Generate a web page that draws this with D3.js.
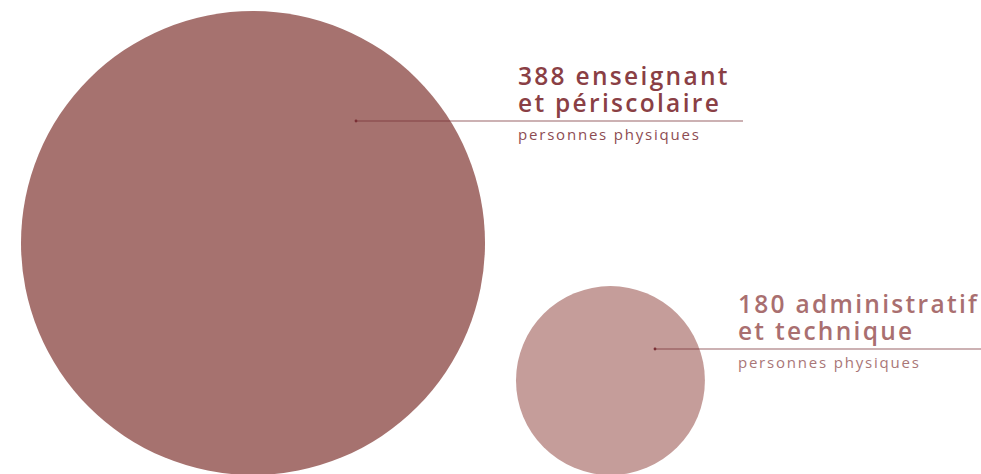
<!DOCTYPE html>
<html lang="fr">

<head>
    <meta charset="UTF-8">
    <script src="https://cdnjs.cloudflare.com/ajax/libs/d3/7.9.0/d3.min.js"></script>
    <title>Effectifs</title>
    <style>
        body {
            margin: 0;
            background-color: white;
            font-family: "Open Sans", sans-serif;
        }

        svg {
            display: block;
        }
    </style>
</head>

<body>
    <div id="content"></div>
    <script>
        // data
        const categories = ["enseignant et périscolaire", "administratif et technique"];
        const values = [388, 180];
        const titleLine1 = ["388 enseignant", "180 administratif"];
        const titleLine2 = ["et périscolaire", "et technique"];
        const subtitles = ["personnes physiques", "personnes physiques"];

        const width = 981;
        const height = 474;
        const baseline = 475; // circles sit on this line
        const left = 21;
        const gap = 31;

        const circleColors = ["#a6726f", "#c59d9a"];
        const titleColors = ["#8a3f45", "#a96f70"];
        const subColors = ["#8d4c52", "#a97677"];
        // leader line: y, dot x, end x
        const leader = [
            { y: 121, dotX: 356, endX: 743 },
            { y: 349, dotX: 655, endX: 981 }
        ];

        const svg = d3.select("#content").append("svg")
            .attr("width", width)
            .attr("height", height);

        // radius scale
        const r = d3.scalePow().exponent(1.17)
            .domain([0, d3.max(values)])
            .range([0, 232]);

        // pack circles left to right
        const nodes = [];
        let cursor = left;
        values.forEach((v, i) => {
            const rad = r(v);
            nodes.push({ i, v, r: rad, cx: cursor + rad, cy: baseline - rad });
            cursor += 2 * rad + gap;
        });

        svg.selectAll("circle.bubble")
            .data(nodes)
            .enter()
            .append("circle")
            .attr("class", "bubble")
            .attr("cx", d => d.cx)
            .attr("cy", d => d.cy)
            .attr("r", d => d.r)
            .attr("fill", d => circleColors[d.i]);

        // leader lines
        const g = svg.selectAll("g.label")
            .data(nodes)
            .enter()
            .append("g")
            .attr("class", "label");

        g.append("line")
            .attr("x1", d => leader[d.i].dotX)
            .attr("x2", d => leader[d.i].endX)
            .attr("y1", d => leader[d.i].y)
            .attr("y2", d => leader[d.i].y)
            .attr("stroke", "#7a2f35")
            .attr("stroke-opacity", 0.5)
            .attr("stroke-width", 1.3);

        g.append("circle")
            .attr("cx", d => leader[d.i].dotX)
            .attr("cy", d => leader[d.i].y)
            .attr("r", 1.4)
            .attr("fill", "#7a2f35");

        const tx = d => d.cx + d.r + 33;

        // two-line title in one text element
        const title = g.append("text")
            .attr("fill", d => titleColors[d.i])
            .style("font-size", "24.5px")
            .style("font-weight", 600)
            .style("letter-spacing", "2.3px");

        title.append("tspan")
            .attr("x", tx)
            .attr("y", d => leader[d.i].y - 36)
            .text(d => titleLine1[d.i]);

        title.append("tspan")
            .attr("x", tx)
            .attr("y", d => leader[d.i].y - 9)
            .text(d => titleLine2[d.i]);

        g.append("text")
            .attr("x", tx)
            .attr("y", d => leader[d.i].y + 19)
            .attr("fill", d => subColors[d.i])
            .style("font-size", "15px")
            .style("letter-spacing", "1.8px")
            .text(d => subtitles[d.i]);
    </script>
</body>

</html>
